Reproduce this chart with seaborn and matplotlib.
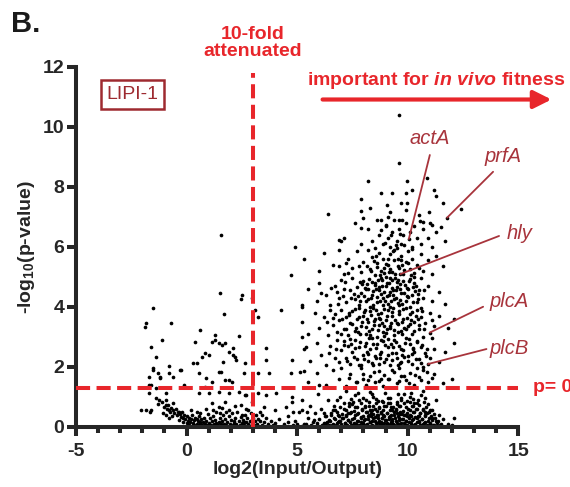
import matplotlib
matplotlib.use("Agg")
import matplotlib.pyplot as plt
import pandas as pd
import seaborn as sns

# --- points (estimated positions, log2 fold / -log10 p) ---
left_upper = [
    (1.55, 6.4), (4.9, 6.0), (4.7, 5.07), (1.5, 4.47), (2.5, 4.4), (2.45, 4.27), (2.95, 4.3),
    (-1.5, 3.97), (1.7, 3.77), (3.1, 3.9), (3.25, 3.67), (4.25, 3.9), (5.2, 4.07), (-1.85, 3.47),
    (-1.9, 3.33), (-0.7, 3.47), (0.63, 3.23), (-1.1, 2.9), (2.35, 3.03), (5.2, 3.0), (0.4, 2.83),
    (1.3, 2.9), (1.45, 2.8), (1.6, 2.73), (-1.6, 2.67), (5.4, 2.67), (3.6, 2.63), (2.1, 2.63),
    (0.7, 2.33), (-1.4, 2.33), (0.85, 2.47), (0.3, 2.13), (2.2, 2.33), (2.65, 2.13), (3.6, 2.23),
    (4.75, 2.23), (-0.8, 2.03), (-0.3, 1.9), (-1.5, 1.97), (-1.3, 1.8), (0.55, 1.8), (1.45, 1.83),
    (2.6, 1.8), (3.25, 1.8), (3.75, 1.8), (4.7, 1.8), (5.15, 1.83), (-1.7, 1.67), (-1.2, 1.67),
    (-0.6, 1.67), (0.9, 1.63), (1.75, 1.57), (2.05, 1.5), (-1.7, 1.4), (-1.4, 1.3), (-0.1, 1.4),
    (0.85, 1.33), (-1.7, 1.13), (-0.95, 1.13), (0.55, 1.13), (1.0, 1.13), (1.45, 1.17), (1.9, 1.13),
    (2.65, 1.07), (3.25, 1.13), (3.6, 1.07), (4.05, 1.13), (4.75, 1.0), (-2.05, 0.57), (-1.65, 0.5),
    (-1.25, 0.9), (-0.95, 0.73), (-0.8, 0.57), (-0.6, 0.8), (-0.35, 0.5), (1.15, 0.8), (1.45, 0.67),
    (1.75, 0.83), (1.9, 0.57), (2.45, 0.73), (2.95, 0.83), (3.5, 0.67), (4.0, 0.57), (4.5, 0.67),
    (4.75, 0.83), (5.2, 0.57), (5.45, 0.5), (1.3, 3.07), (1.15, 2.83), (1.75, 2.8), (1.9, 2.5),
    (2.1, 2.4), (1.65, 2.17), (2.25, 2.23), (0.45, 2.13), (1.0, 2.4), (1.55, 1.83), (1.15, 1.5),
    (1.9, 1.57), (2.35, 1.17), (2.7, 1.07), (-1.5, 1.9), (-1.2, 1.63), (-0.8, 1.8), (-0.27, 1.9),
    (-1.63, 1.4), (-1.4, 0.97), (-0.95, 0.9), (-1.85, 0.57), (-1.6, 0.57),
]

left_floor = [
    (-1.3, 0.75), (-1.1, 0.82), (-1.0, 0.66), (-0.9, 0.6), (-0.85, 0.72), (-0.75, 0.5), (-0.7, 0.64),
    (-0.6, 0.55), (-0.55, 0.45), (-0.5, 0.6), (-0.45, 0.38), (-0.4, 0.5), (-0.3, 0.42), (-0.25, 0.33),
    (-0.2, 0.48), (-0.15, 0.3), (-0.1, 0.4), (-0.05, 0.25), (0.0, 0.35), (0.05, 0.2), (0.1, 0.3),
    (0.15, 0.15), (0.2, 0.25), (0.25, 0.4), (0.3, 0.12), (0.35, 0.22), (0.4, 0.3), (0.45, 0.08),
    (0.5, 0.18), (0.55, 0.35), (0.6, 0.1), (0.65, 0.25), (0.7, 0.05), (0.75, 0.15), (0.8, 0.3),
    (0.85, 0.08), (0.9, 0.2), (0.95, 0.42), (1.0, 0.12), (1.05, 0.28), (1.1, 0.06), (1.15, 0.18),
    (1.2, 0.35), (1.25, 0.1), (1.3, 0.22), (1.35, 0.5), (1.4, 0.05), (1.45, 0.15), (1.5, 0.3),
    (1.55, 0.08), (1.6, 0.2), (1.65, 0.4), (1.7, 0.1), (1.75, 0.25), (1.8, 0.05), (1.85, 0.15),
    (1.9, 0.35), (1.95, 0.1), (2.0, 0.22), (2.05, 0.45), (2.1, 0.06), (2.15, 0.18), (2.2, 0.3),
    (2.25, 0.1), (2.3, 0.5), (2.35, 0.2), (2.4, 0.05), (2.45, 0.32), (2.5, 0.12), (2.55, 0.22),
    (2.6, 0.06), (2.65, 0.4), (2.7, 0.15), (2.75, 0.28), (2.8, 0.08), (2.85, 0.2), (2.9, 0.45),
    (2.95, 0.1), (3.0, 0.3), (3.05, 0.05), (3.1, 0.18), (3.15, 0.38), (3.2, 0.08), (3.3, 0.2),
    (3.4, 0.06), (3.5, 0.15), (3.6, 0.3), (3.7, 0.08), (3.8, 0.18), (3.9, 0.05), (4.0, 0.12),
    (4.2, 0.25), (4.4, 0.08), (4.6, 0.15), (4.8, 0.05), (5.0, 0.1), (0.2, 0.55), (0.45, 0.5),
    (0.9, 0.6), (1.6, 0.62), (2.2, 0.7), (2.8, 0.55), (3.3, 0.5), (-0.65, 0.35), (-0.35, 0.22),
    (0.0, 0.12), (0.35, 0.05), (0.6, 0.45), (1.2, 0.55), (1.8, 0.48), (2.5, 0.38), (3.4, 0.4),
    (0.1, 0.05), (1.0, 0.02), (2.0, 0.03), (3.0, 0.02), (1.5, 0.45), (2.7, 0.6), (-1.05, 0.45),
    (-0.95, 0.4), (-0.8, 0.3), (0.27, 0.07), (0.62, 0.17), (0.93, 0.05), (1.33, 0.14), (1.68, 0.06),
    (2.13, 0.12), (2.58, 0.15), (3.23, 0.27), (-0.18, 0.16), (0.48, 0.27),
]

main_floor = [
    (4.6, 0.35), (4.9, 0.2), (5.1, 0.5), (5.3, 0.1), (5.5, 0.3), (5.6, 0.7), (5.7, 0.15), (5.8, 0.45),
    (5.9, 0.05), (6.0, 0.25), (6.1, 0.6), (6.2, 0.12), (6.3, 0.35), (6.4, 0.9), (6.45, 0.05), (6.5, 0.2),
    (5.2, 0.9), (5.95, 1.1), (6.2, 0.45), (6.35, 0.15), (5.4, 0.08), (4.8, 0.5),
    (6.55, 0.4), (6.6, 0.1), (6.65, 0.7), (6.7, 0.25), (6.75, 0.05), (6.8, 0.5), (6.85, 0.15),
    (6.9, 0.35), (6.95, 1.0), (7.0, 0.08), (7.05, 0.28), (7.1, 0.6), (7.15, 0.12), (7.2, 0.4),
    (7.25, 0.05), (7.3, 0.22), (7.35, 0.8), (7.4, 0.15), (7.45, 0.5), (7.5, 0.06), (7.55, 0.3),
    (7.6, 0.65), (7.65, 0.1), (7.7, 0.42), (7.75, 0.2), (7.8, 0.9), (7.85, 0.05), (7.9, 0.32),
    (7.95, 0.55), (8.0, 0.12), (6.6, 0.55), (6.9, 0.2), (7.1, 0.02), (7.3, 0.45), (7.5, 0.75),
    (7.7, 0.03), (7.9, 0.15), (6.8, 0.9), (7.2, 1.2), (7.6, 1.05),
    (8.05, 0.25), (8.1, 0.5), (8.15, 0.08), (8.2, 0.35), (8.25, 0.7), (8.3, 0.15), (8.35, 0.45),
    (8.4, 0.05), (8.45, 0.28), (8.5, 0.6), (8.55, 0.12), (8.6, 0.38), (8.65, 0.85), (8.7, 0.2),
    (8.75, 0.05), (8.8, 0.5), (8.85, 0.3), (8.9, 0.1), (8.95, 0.7), (9.0, 0.22), (9.05, 0.45),
    (9.1, 0.05), (9.15, 0.32), (9.2, 0.95), (9.25, 0.15), (9.3, 0.55), (9.35, 0.08), (9.4, 0.38),
    (9.45, 0.2), (9.5, 0.75), (9.55, 0.05), (9.6, 0.3), (9.65, 0.5), (9.7, 0.12), (9.75, 0.42),
    (9.8, 0.25), (9.85, 1.1), (9.9, 0.06), (9.95, 0.35), (10.0, 0.6), (8.1, 0.9), (8.3, 1.15),
    (8.5, 0.2), (8.7, 0.62), (8.9, 0.4), (9.1, 0.8), (9.3, 0.25), (9.5, 0.45), (9.7, 0.9), (9.9, 0.2),
    (8.2, 0.02), (8.6, 0.03), (9.0, 0.02), (9.4, 0.03), (9.8, 0.02), (8.4, 0.55), (8.8, 0.15),
    (9.2, 0.35), (9.6, 0.1), (8.05, 0.65), (8.45, 1.0), (8.85, 0.85), (9.25, 0.65), (9.65, 0.7),
    (9.95, 0.85), (8.25, 0.4), (8.65, 0.3), (9.05, 0.12), (9.45, 0.55), (9.85, 0.4),
    (10.05, 0.15), (10.1, 0.4), (10.15, 0.05), (10.2, 0.7), (10.25, 0.25), (10.3, 0.5), (10.35, 0.1),
    (10.4, 0.3), (10.45, 0.9), (10.5, 0.15), (10.55, 0.45), (10.6, 0.05), (10.65, 0.25), (10.7, 0.6),
    (10.75, 0.12), (10.8, 0.35), (10.85, 0.06), (10.9, 0.2), (10.95, 0.5), (11.0, 0.1), (11.1, 0.3),
    (11.2, 0.05), (11.3, 0.18), (11.4, 0.4), (11.5, 0.08), (11.6, 0.25), (11.8, 0.1), (12.0, 0.05),
    (12.1, 0.3), (10.1, 1.0), (10.3, 0.8), (10.5, 0.35), (10.7, 1.2), (10.9, 0.75), (11.1, 0.55),
    (11.3, 0.9), (10.2, 0.02), (10.6, 0.03), (11.0, 0.02), (10.4, 0.6), (10.8, 0.5),
]

floor_dense = [
    (6.12, 0.05), (6.58, 0.07), (7.03, 0.04), (7.44, 0.06), (7.81, 0.05), (8.13, 0.07), (8.47, 0.04),
    (8.76, 0.06), (9.08, 0.05), (9.37, 0.07), (9.69, 0.04), (9.97, 0.06), (10.28, 0.05), (10.56, 0.07),
    (10.87, 0.04), (11.16, 0.06), (11.44, 0.05), (5.63, 0.06), (5.21, 0.04),
    (6.31, 0.13), (6.79, 0.11), (7.17, 0.14), (7.58, 0.12), (7.96, 0.1), (8.29, 0.15), (8.61, 0.11),
    (8.92, 0.13), (9.22, 0.1), (9.53, 0.14), (9.84, 0.12), (10.13, 0.11), (10.42, 0.15), (10.71, 0.1),
    (11.02, 0.13), (11.31, 0.12), (5.88, 0.11),
    (6.43, 0.21), (6.92, 0.19), (7.31, 0.22), (7.69, 0.18), (8.04, 0.23), (8.37, 0.2), (8.68, 0.17),
    (8.99, 0.22), (9.29, 0.19), (9.61, 0.21), (9.91, 0.18), (10.21, 0.23), (10.49, 0.2), (10.79, 0.17),
    (11.09, 0.21), (11.38, 0.19), (5.74, 0.22),
    (6.67, 0.28), (7.09, 0.3), (7.49, 0.26), (7.87, 0.29), (8.21, 0.27), (8.54, 0.31), (8.84, 0.28),
    (9.14, 0.26), (9.44, 0.3), (9.75, 0.27), (10.05, 0.29), (10.34, 0.31), (10.64, 0.27), (10.95, 0.28),
    (11.24, 0.3),
    (6.26, 0.36), (6.85, 0.38), (7.23, 0.35), (7.63, 0.39), (8.0, 0.37), (8.33, 0.36), (8.65, 0.39),
    (8.95, 0.35), (9.25, 0.38), (9.56, 0.36), (9.86, 0.39), (10.17, 0.37), (10.46, 0.35), (10.77, 0.38),
    (11.06, 0.36),
    (6.51, 0.46), (7.01, 0.44), (7.4, 0.47), (7.76, 0.45), (8.14, 0.48), (8.45, 0.44), (8.77, 0.47),
    (9.06, 0.45), (9.36, 0.48), (9.66, 0.44), (9.95, 0.46), (10.26, 0.48), (10.57, 0.45), (10.86, 0.47),
    (11.19, 0.44),
    (6.73, 0.55), (7.19, 0.57), (7.57, 0.54), (7.94, 0.58), (8.28, 0.56), (8.59, 0.53), (8.89, 0.57),
    (9.19, 0.55), (9.49, 0.58), (9.79, 0.54), (10.09, 0.56), (10.38, 0.59), (10.69, 0.55), (11.0, 0.57),
    (6.95, 0.67), (7.36, 0.69), (7.72, 0.66), (8.09, 0.7), (8.41, 0.68), (8.72, 0.65), (9.02, 0.69),
    (9.32, 0.67), (9.62, 0.7), (9.92, 0.66), (10.23, 0.68), (10.52, 0.71), (10.83, 0.67),
    (7.13, 0.79), (7.53, 0.82), (7.91, 0.78), (8.26, 0.81), (8.58, 0.8), (8.9, 0.83), (9.21, 0.79),
    (9.51, 0.82), (9.81, 0.78), (10.12, 0.81), (10.43, 0.8), (10.74, 0.83),
    (7.42, 0.94), (8.0, 0.97), (8.56, 0.93), (9.12, 0.96), (9.68, 0.95), (10.24, 0.92), (10.8, 0.97),
    (7.74, 1.12), (8.37, 1.08), (8.96, 1.13), (9.54, 1.09), (10.13, 1.12), (10.62, 1.07),
]

main_upper = [
    # y 1.3 - 2
    (5.5, 1.5), (5.9, 1.8), (6.3, 1.4), (6.6, 1.9), (6.9, 1.6), (7.2, 1.35), (7.4, 1.75), (7.7, 1.5),
    (7.9, 1.95), (8.1, 1.4), (8.3, 1.7), (8.5, 1.5), (8.7, 1.85), (8.9, 1.35), (9.1, 1.6), (9.3, 1.9),
    (9.5, 1.45), (9.7, 1.7), (9.9, 1.55), (10.1, 1.8), (10.3, 1.4), (10.5, 1.65), (10.7, 1.9),
    (10.9, 1.5), (11.2, 1.75), (11.6, 1.45), (12.0, 1.6), (8.0, 1.6), (8.8, 1.6), (9.6, 1.95),
    (10.4, 1.95), (7.0, 1.95), (6.0, 1.4), (5.3, 1.85),
    # y 2 - 3
    (5.3, 2.6), (5.6, 2.2), (5.9, 2.8), (6.1, 2.4), (6.3, 2.05), (6.5, 2.7), (6.7, 2.3), (6.8, 2.9),
    (6.9, 2.15), (7.0, 2.55), (7.1, 2.85), (7.2, 2.3), (7.3, 2.7), (7.4, 2.1), (7.5, 2.5), (7.6, 2.9),
    (7.7, 2.25), (7.8, 2.65), (7.9, 2.05), (8.0, 2.4), (8.1, 2.8), (8.2, 2.2), (8.3, 2.6), (8.4, 2.95),
    (8.5, 2.35), (8.6, 2.75), (8.7, 2.1), (8.8, 2.5), (8.9, 2.85), (9.0, 2.25), (9.1, 2.65), (9.2, 2.05),
    (9.3, 2.45), (9.4, 2.9), (9.5, 2.3), (9.6, 2.7), (9.7, 2.15), (9.8, 2.55), (9.9, 2.95), (10.0, 2.35),
    (10.1, 2.75), (10.2, 2.1), (10.3, 2.5), (10.4, 2.85), (10.5, 2.25), (10.6, 2.65), (10.7, 2.0),
    (10.8, 2.45), (10.92, 2.09), (11.0, 2.3), (11.2, 2.6), (11.4, 2.15), (11.7, 2.5), (12.1, 2.8),
    (8.15, 2.5), (8.75, 2.3), (9.25, 2.75), (9.75, 2.4), (7.45, 2.75), (6.45, 2.45), (10.25, 2.6),
    (8.45, 2.05), (9.55, 2.05), (11.1, 2.95),
    # y 3 - 4
    (5.2, 3.5), (5.5, 3.1), (5.8, 3.8), (6.0, 3.3), (6.2, 3.65), (6.4, 3.05), (6.5, 3.9), (6.6, 3.4),
    (6.7, 3.75), (6.8, 3.15), (6.9, 3.55), (7.0, 3.9), (7.1, 3.25), (7.2, 3.65), (7.3, 3.05), (7.4, 3.45),
    (7.5, 3.85), (7.6, 3.2), (7.7, 3.6), (7.8, 3.95), (7.9, 3.35), (8.0, 3.7), (8.1, 3.1), (8.2, 3.5),
    (8.3, 3.85), (8.4, 3.25), (8.5, 3.6), (8.6, 3.0), (8.7, 3.4), (8.8, 3.8), (8.9, 3.15), (9.0, 3.55),
    (9.1, 3.9), (9.2, 3.3), (9.3, 3.7), (9.4, 3.05), (9.5, 3.45), (9.6, 3.85), (9.7, 3.2), (9.8, 3.6),
    (9.9, 3.95), (10.0, 3.35), (10.1, 3.75), (10.2, 3.1), (10.3, 3.5), (10.4, 3.9), (10.5, 3.25),
    (10.6, 3.65), (10.7, 3.0), (10.8, 3.45), (11.0, 3.14), (11.0, 3.8), (11.2, 3.35), (11.4, 3.7),
    (11.8, 3.3), (7.05, 3.6), (7.65, 3.3), (8.25, 3.2), (8.75, 3.6), (9.25, 3.45), (9.75, 3.5),
    (8.45, 3.95), (9.05, 3.25), (9.55, 3.15), (10.15, 3.55), (7.85, 3.1), (8.05, 3.9), (8.65, 3.75),
    (9.35, 3.95), (9.85, 3.3), (10.45, 3.6), (6.35, 3.5), (10.65, 3.85), (11.1, 3.55), (12.1, 3.6),
    (7.35, 3.8), (8.95, 3.35),
    # y 4 - 5
    (5.2, 4.0), (5.5, 4.6), (5.9, 4.2), (6.0, 4.8), (6.3, 4.4), (6.5, 4.05), (6.7, 4.7), (6.9, 4.3),
    (7.0, 4.9), (7.2, 4.15), (7.4, 4.55), (7.5, 4.95), (7.6, 4.25), (7.7, 4.65), (7.8, 4.05), (7.9, 4.45),
    (8.0, 4.85), (8.1, 4.2), (8.2, 4.6), (8.3, 4.0), (8.4, 4.4), (8.5, 4.8), (8.6, 4.15), (8.7, 4.55),
    (8.8, 4.95), (8.9, 4.3), (9.0, 4.7), (9.1, 4.1), (9.2, 4.5), (9.3, 4.9), (9.4, 4.25), (9.5, 4.65),
    (9.6, 4.05), (9.7, 4.45), (9.8, 4.85), (9.9, 4.2), (10.0, 4.6), (10.1, 4.0), (10.2, 4.4),
    (10.3, 4.8), (10.4, 4.15), (10.5, 4.55), (10.6, 4.95), (10.7, 4.3), (10.9, 4.7), (11.1, 4.2),
    (11.4, 4.5), (11.7, 4.1), (8.15, 4.75), (8.35, 4.3), (8.55, 4.6), (8.75, 4.2), (8.95, 4.5),
    (9.15, 4.8), (9.35, 4.4), (9.55, 4.9), (9.75, 4.1), (9.95, 4.35), (8.45, 4.05), (8.85, 4.7),
    (9.25, 4.2), (9.65, 4.75), (10.05, 4.85), (7.75, 4.35), (7.95, 4.75), (7.45, 4.3), (10.25, 4.65),
    (10.45, 4.25), (6.8, 4.5), (7.1, 4.6), (9.45, 4.55), (9.05, 4.35), (8.65, 4.9), (10.75, 4.55),
    (6.1, 4.45),
    # y 5 - 6
    (5.3, 5.6), (6.0, 5.2), (6.2, 5.8), (6.6, 5.4), (6.9, 5.9), (7.1, 5.1), (7.3, 5.6), (7.5, 5.3),
    (7.7, 5.85), (7.9, 5.15), (8.0, 5.5), (8.2, 5.9), (8.3, 5.25), (8.4, 5.65), (8.5, 5.05), (8.6, 5.45),
    (8.7, 5.8), (8.8, 5.2), (8.9, 5.6), (9.0, 5.0), (9.1, 5.4), (9.2, 5.75), (9.3, 5.15), (9.4, 5.55),
    (9.5, 5.95), (9.6, 5.3), (9.67, 5.09), (9.7, 5.7), (9.8, 5.1), (9.9, 5.5), (10.0, 5.85), (10.1, 5.25),
    (10.2, 5.6), (10.3, 5.0), (10.4, 5.4), (10.6, 5.75), (10.7, 5.2), (10.9, 5.55), (11.1, 5.1),
    (11.3, 5.7), (11.6, 5.35), (8.15, 5.35), (8.55, 5.7), (8.95, 5.3), (9.35, 5.85), (9.75, 5.4),
    (10.15, 5.05), (8.75, 5.05), (9.15, 5.15), (9.55, 5.6), (10.5, 5.3), (7.2, 5.45), (7.8, 5.35),
    # y 6 - 7
    (7.1, 6.3), (7.6, 6.8), (7.9, 6.1), (8.2, 6.6), (8.4, 6.2), (8.6, 6.9), (8.7, 6.4), (8.9, 6.1),
    (9.0, 6.7), (9.1, 6.3), (9.2, 6.0), (9.3, 6.5), (9.4, 6.9), (9.5, 6.2), (9.6, 6.6), (9.7, 6.1),
    (9.8, 6.4), (9.9, 6.8), (10.05, 6.26), (10.1, 6.5), (10.2, 6.0), (10.3, 6.7), (10.4, 6.3),
    (10.6, 6.1), (10.7, 6.6), (10.9, 6.3), (11.1, 6.0), (11.3, 6.5), (11.7, 6.2), (8.0, 6.95),
    (9.45, 6.05), (10.55, 6.85), (8.8, 6.55), (9.75, 6.9), (11.0, 6.8), (6.9, 6.23), (7.0, 6.2),
    # y 7 and up
    (6.4, 7.1), (7.9, 7.6), (8.3, 7.3), (8.8, 7.8), (9.05, 7.4), (9.3, 7.8), (9.7, 7.47), (9.9, 7.8),
    (9.95, 7.47), (10.2, 7.9), (11.2, 7.9), (11.3, 7.7), (11.6, 7.47), (12.4, 7.27), (11.78, 6.97),
    (7.9, 7.2), (9.2, 7.17), (9.9, 7.23), (10.5, 7.07), (10.95, 7.17), (8.8, 6.9), (9.1, 7.0),
    (9.6, 6.9), (10.7, 6.83), (11.1, 6.73), (11.5, 6.67), (7.9, 6.63), (9.0, 6.73),
    (8.2, 8.2), (9.95, 8.2), (10.85, 8.3), (9.6, 8.8), (9.59, 10.39),
]

core_dense = [
    (8.33, 5.18), (8.62, 5.31), (8.91, 5.12), (9.04, 5.44), (9.22, 5.27), (9.41, 5.08), (9.58, 5.36),
    (9.83, 5.21), (10.02, 5.47), (10.27, 5.14), (8.47, 5.52), (9.12, 5.58), (9.71, 5.55),
    (7.84, 4.82), (8.08, 4.61), (8.27, 4.93), (8.52, 4.72), (8.69, 4.66), (8.83, 4.88), (9.07, 4.79),
    (9.28, 4.64), (9.44, 4.97), (9.63, 4.58), (9.86, 4.74), (10.11, 4.92), (10.36, 4.69), (8.39, 4.83),
    (9.19, 4.96), (9.52, 4.81), (9.97, 4.62),
    (7.58, 4.41), (7.83, 4.18), (8.04, 4.36), (8.21, 4.27), (8.43, 4.52), (8.61, 4.33), (8.79, 4.44),
    (8.97, 4.18), (9.16, 4.38), (9.33, 4.57), (9.48, 4.29), (9.67, 4.24), (9.82, 4.47), (10.03, 4.31),
    (10.22, 4.16), (10.48, 4.42), (8.12, 4.58), (8.88, 4.07), (9.57, 4.12), (10.31, 4.53),
    (7.36, 3.72), (7.62, 3.91), (7.81, 3.66), (8.02, 3.83), (8.18, 3.58), (8.36, 3.74), (8.55, 3.88),
    (8.72, 3.62), (8.91, 3.93), (9.08, 3.69), (9.27, 3.84), (9.43, 3.57), (9.62, 3.76), (9.79, 3.93),
    (9.96, 3.64), (10.18, 3.82), (10.39, 3.68), (10.62, 3.97), (8.47, 3.53), (9.18, 3.98),
    (7.21, 3.27), (7.49, 3.42), (7.73, 3.16), (7.94, 3.48), (8.13, 3.33), (8.31, 3.07), (8.48, 3.38),
    (8.64, 3.22), (8.83, 3.47), (9.02, 3.13), (9.19, 3.36), (9.38, 3.24), (9.56, 3.41), (9.73, 3.08),
    (9.91, 3.27), (10.09, 3.44), (10.28, 3.19), (10.51, 3.38), (10.73, 3.26), (8.94, 3.02),
    (7.14, 2.74), (7.39, 2.91), (7.63, 2.62), (7.86, 2.83), (8.06, 2.68), (8.24, 2.97), (8.41, 2.77),
    (8.58, 2.61), (8.77, 2.88), (8.96, 2.71), (9.13, 2.94), (9.32, 2.66), (9.49, 2.82), (9.68, 2.59),
    (9.87, 2.79), (10.06, 2.92), (10.24, 2.64), (10.44, 2.81), (10.66, 2.73), (10.88, 2.58),
    (7.27, 2.18), (7.55, 2.33), (7.78, 2.07), (8.01, 2.27), (8.19, 2.41), (8.37, 2.13), (8.56, 2.29),
    (8.74, 2.44), (8.93, 2.16), (9.11, 2.38), (9.29, 2.22), (9.46, 2.47), (9.64, 2.11), (9.82, 2.34),
    (10.01, 2.19), (10.19, 2.42), (10.37, 2.26), (10.58, 2.14), (10.81, 2.37),
    (7.33, 1.62), (7.68, 1.48), (7.97, 1.77), (8.22, 1.56), (8.46, 1.84), (8.68, 1.51), (8.92, 1.73),
    (9.17, 1.58), (9.39, 1.81), (9.61, 1.53), (9.84, 1.69), (10.07, 1.47), (10.33, 1.74), (10.61, 1.57),
    (10.86, 1.82), (11.08, 1.63),
    (8.52, 5.96), (8.97, 6.12), (9.38, 5.88), (9.81, 6.07), (10.18, 5.92), (9.23, 6.38), (9.66, 6.44),
    (6.62, 3.62), (6.84, 4.08), (7.06, 4.37), (6.74, 2.58), (6.97, 3.09), (7.18, 4.84), (6.55, 4.61),
    (7.31, 5.12), (6.88, 5.36),
]

genes = ["actA", "prfA", "hly", "plcA", "plcB"]
gene_label_xy = [(11.0, 9.6), (14.3, 9.0), (15.07, 6.45), (14.6, 4.18), (14.6, 2.61)]
gene_line_from = [(11.0, 9.06), (13.86, 8.5), (14.13, 6.36), (13.41, 4.0), (13.56, 2.59)]
gene_line_to = [(10.05, 6.26), (11.78, 6.97), (9.67, 5.09), (11.0, 3.14), (10.92, 2.09)]

fold_cut = 3.0
p_cut = 1.3
x_major = [-5, 0, 5, 10, 15]
x_minor = list(range(-5, 16))
y_major = [0, 2, 4, 6, 8, 10, 12]

RED = "#e8262b"
GENE = "#a8343c"
BOX = "#9e2a30"

# --- style ---
sns.set_style("ticks")
plt.rcParams["font.family"] = ["Liberation Sans", "DejaVu Sans"]
plt.rcParams["axes.unicode_minus"] = False
plt.rcParams["mathtext.fontset"] = "custom"
plt.rcParams["mathtext.rm"] = "Liberation Sans:bold"
plt.rcParams["mathtext.bf"] = "Liberation Sans:bold"
plt.rcParams["mathtext.it"] = "Liberation Sans:italic:bold"

pts = left_upper + left_floor + main_floor + floor_dense + main_upper + core_dense
df = pd.DataFrame(pts, columns=["x", "y"])

fig = plt.figure(figsize=(5.7, 4.87), dpi=100)
ax = fig.add_axes([0.1333, 0.1238, 0.776, 0.739])

sns.scatterplot(data=df, x="x", y="y", s=7, color="black", linewidth=0, ax=ax, zorder=2)

# --- cutoff lines ---
ax.plot([fold_cut, fold_cut], [0, 11.8], color=RED, lw=2.9, dashes=(3.5, 1.6),
        clip_on=False, zorder=3)
ax.plot([-5, 15], [p_cut, p_cut], color=RED, lw=2.9, dashes=(3.5, 1.6),
        clip_on=False, zorder=3)

# --- gene callouts ---
for g, (tx, ty), (x1, y1), (x2, y2) in zip(genes, gene_label_xy, gene_line_from, gene_line_to):
    ax.plot([x1, x2], [y1, y2], color=GENE, lw=1.3, zorder=4, clip_on=False)
    ax.text(tx, ty, g, color=GENE, fontsize=14.5, style="italic", ha="center", va="center")

# --- annotations ---
ax.text(fold_cut, 12.22, "10-fold\nattenuated", color=RED, fontsize=14, fontweight="bold",
        ha="center", va="bottom", linespacing=1.05)
ax.text(11.3, 11.41, r"important for $\mathit{in\ vivo}$ fitness", color=RED, fontsize=14,
        fontweight="bold", ha="center", va="baseline")
ax.annotate("", xy=(16.5, 10.91), xytext=(6.15, 10.91), annotation_clip=False,
            arrowprops=dict(arrowstyle="-|>,head_length=0.6,head_width=0.3", lw=3,
                            color=RED, mutation_scale=18, shrinkA=0, shrinkB=0))
# the reference figure crops this label at its right edge ("p= 0")
ax.text(15.65, p_cut, "p= 0.05", color=RED, fontsize=14, fontweight="bold",
        ha="left", va="center")
ax.text(-2.44, 11.07, "LIPI-1", color=BOX, fontsize=14, ha="center", va="center",
        bbox=dict(boxstyle="square,pad=0.3", fc="white", ec=BOX, lw=1.8))

fig.text(0.02, 0.935, "B.", fontsize=21, fontweight="bold", color="#1a1a1a")

# --- axes ---
ax.set_xlim(-5, 15)
ax.set_ylim(0, 12)
ax.set_xticks(x_major)
ax.set_xticks(x_minor, minor=True)
ax.set_yticks(y_major)
sns.despine(ax=ax)
for s in ["left", "bottom"]:
    ax.spines[s].set_linewidth(2.9)
ax.tick_params(which="major", length=6.5, width=2.9, labelsize=14, pad=2)
ax.tick_params(axis="x", which="major", pad=5)
ax.tick_params(axis="x", which="minor", length=4, width=2.9)
for lab in ax.get_xticklabels() + ax.get_yticklabels():
    lab.set_fontweight("bold")

ax.set_xlabel("log2(Input/Output)", fontsize=14, fontweight="bold", labelpad=1)
ax.set_ylabel(r"-log$_{10}$(p-value)", fontsize=14, fontweight="bold", labelpad=4)

fig.savefig("out.png", dpi=100)
